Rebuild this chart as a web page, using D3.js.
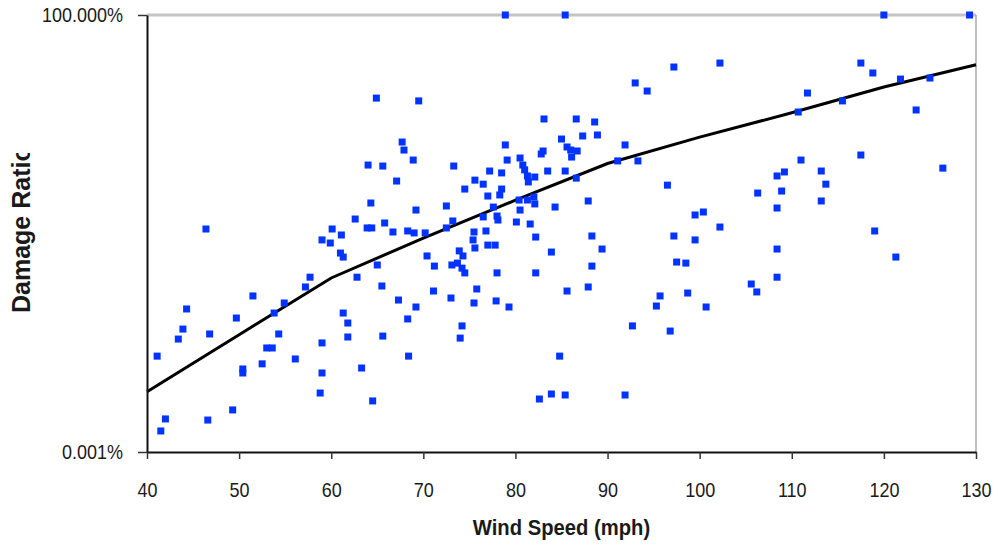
<!DOCTYPE html>
<html lang="en">
<head>
<meta charset="utf-8">
<title>Damage Ratio vs Wind Speed</title>
<script src="https://cdn.jsdelivr.net/npm/d3@7"></script>
<style>
body { margin: 0; background: #fff; }
svg text { font-family: "Liberation Sans", Arial, sans-serif; fill: #1a1a1a; }
</style>
</head>
<body>
<script>
var w = 998;
var h = 550;

// observed damage ratios (percent) against wind speed (mph)
var windSpeed = [
	78.9, 85.4, 120.0, 129.3,
	97.2, 102.2, 93.0, 94.3, 117.5, 118.8, 121.8, 125.0, 111.7, 115.5, 110.7, 123.5,
	117.5, 111.0, 108.4, 109.2, 113.2, 113.7, 126.4, 106.3, 108.9, 113.2, 108.4, 100.4,
	99.5, 102.2, 119.0, 108.4, 121.3, 108.4, 105.6, 106.2, 100.7, 97.2, 99.5, 97.5,
	98.5, 95.7, 95.3, 98.7, 92.7, 96.8, 96.5, 91.9, 91.1, 93.3,
	64.9, 69.5, 67.7, 67.9, 68.9, 64.0, 65.6, 67.1, 73.3, 75.6, 74.5, 64.3, 69.2, 72.5,
	83.1, 86.6, 88.6, 87.3, 88.9, 85.0, 78.9, 83.0, 82.8, 85.6, 86.0, 86.7, 86.1, 79.1,
	80.5, 80.8, 81.0, 81.3, 81.4, 82.1, 77.2, 78.5, 83.5, 85.4, 86.6, 76.5, 77.0, 78.5,
	78.3, 80.4, 81.3, 82.0, 82.1, 77.6, 87.9, 84.3, 80.5, 76.5, 78.0, 78.1, 80.1, 81.6,
	73.2, 72.5, 75.5, 76.8, 70.2, 82.2, 88.3,
	46.4, 62.6, 60.1, 61.1, 63.9, 64.4, 65.8, 66.7, 68.3, 69.0, 59.0, 59.9, 75.4, 75.6,
	77.0, 77.8, 70.4, 71.2, 73.9, 74.3, 73.1, 73.7, 74.2, 74.5, 78.0, 82.2, 83.9, 89.4,
	88.3, 61.0, 61.3, 65.0, 62.8, 65.5, 57.7, 57.2, 54.9, 53.8, 51.5, 49.7, 44.3, 43.9,
	43.4, 46.8, 41.1, 61.3, 61.8, 61.8, 59.0, 54.3, 53.0, 53.6, 52.5, 50.4, 50.4, 56.1,
	59.0, 58.8, 63.3, 64.5, 49.3, 46.6, 42.0, 41.5, 67.3, 69.2, 68.3, 65.6, 68.4, 71.1,
	73.0, 75.8, 75.5, 77.9, 79.3, 85.6, 87.9, 74.2, 74.0, 84.8, 83.9, 82.6, 85.4, 91.9
];
var damagePct = [
	100, 100, 100, 100,
	25.4, 28.2, 16.7, 13.5, 28.2, 21.7, 18.5, 19.0, 12.8, 10.4, 7.76, 8.19,
	2.50, 2.19, 1.44, 1.60, 1.64, 1.16, 1.77, 0.918, 0.968, 0.745, 0.619, 0.557,
	0.515, 0.375, 0.338, 0.210, 0.170, 0.100, 0.0836, 0.0678, 0.0456, 0.296, 0.267, 0.149,
	0.145, 0.0610, 0.0468, 0.0659, 0.0277, 0.0242, 1.13, 3.26, 2.14, 2.14,
	11.2, 10.4, 3.52, 2.85, 2.19, 1.92, 1.87, 1.26, 1.87, 1.29, 1.02, 0.706, 0.587, 0.653,
	6.46, 6.46, 5.97, 4.13, 4.24, 3.81, 3.26, 2.78, 2.57, 3.09, 2.85, 2.78, 2.37, 2.19,
	2.31, 1.92, 1.69, 1.44, 1.23, 1.40, 1.64, 1.56, 1.64, 1.64, 1.36, 1.16, 0.849, 1.02,
	0.873, 0.764, 0.764, 0.828, 0.689, 0.635, 0.745, 0.635, 0.587, 0.489, 0.501, 0.451, 0.428, 0.406,
	0.440, 0.366, 0.329, 0.338, 0.321, 0.288, 0.296,
	0.356, 0.463, 0.356, 0.304, 0.366, 0.366, 0.417, 0.329, 0.338, 0.321, 0.267, 0.246, 0.267, 0.216,
	0.233, 0.233, 0.175, 0.134, 0.200, 0.175, 0.138, 0.145, 0.127, 0.112, 0.112, 0.112, 0.194, 0.210,
	0.134, 0.189, 0.170, 0.138, 0.100, 0.0793, 0.100, 0.0773, 0.0507, 0.0389, 0.0610, 0.0341, 0.0433, 0.0255,
	0.0196, 0.0224, 0.0125, 0.0389, 0.0299, 0.0207, 0.0177, 0.0224, 0.0155, 0.0155, 0.0102, 0.00891, 0.00802, 0.0116,
	0.00802, 0.00473, 0.00914, 0.00384, 0.00303, 0.00232, 0.00239, 0.00174, 0.0548, 0.0456, 0.0333, 0.0212, 0.0125, 0.0695,
	0.0578, 0.0733, 0.0507, 0.0535, 0.0456, 0.0695, 0.0773, 0.0277, 0.0201, 0.0125, 0.00461, 0.00404, 0.00449, 0.00449
];

// fitted damage curve
var curveSpeed = [40, 50, 60, 70, 80, 90, 100, 110, 120, 130];
var curvePct = [0.0049, 0.022, 0.098, 0.28, 0.76, 2.0, 4.0, 7.6, 15, 27];

var xTicks = [40, 50, 60, 70, 80, 90, 100, 110, 120, 130];
var yTicks = [0.001, 100];
var yTickLabels = ["0.001%", "100.000%"];

var squeeze = 0.9;

var x = d3.scaleLinear().domain([40, 130]).range([147, 976]);
var y = d3.scaleLog().domain([0.001, 100]).range([452, 15]);

var svg = d3.select("body")
	.append("svg")
	.attr("width", w)
	.attr("height", h);

// top gridline and right border of the plot area
svg.append("line")
	.attr("x1", x(40)).attr("x2", x(130))
	.attr("y1", y(100)).attr("y2", y(100))
	.attr("stroke", "#c4c4c4")
	.attr("stroke-width", 3);
svg.append("line")
	.attr("x1", x(130)).attr("x2", x(130))
	.attr("y1", y(100)).attr("y2", y(0.001))
	.attr("stroke", "#a8a8a8")
	.attr("stroke-width", 1.5);

// curve
var line = d3.line()
	.x(function(d, i) { return x(curveSpeed[i]); })
	.y(function(d) { return y(d); });
svg.append("path")
	.datum(curvePct)
	.attr("d", line)
	.attr("fill", "none")
	.attr("stroke", "#000")
	.attr("stroke-width", 3);

// points
svg.selectAll("rect.pt")
	.data(damagePct)
	.enter()
	.append("rect")
	.attr("class", "pt")
	.attr("x", function(d, i) { return x(windSpeed[i]) - 3.5; })
	.attr("y", function(d) { return y(d) - 3.5; })
	.attr("width", 7)
	.attr("height", 7)
	.attr("fill", "#0033ff");

// axes
var xAxis = svg.append("g")
	.attr("transform", "translate(0," + y(0.001) + ")")
	.call(d3.axisBottom(x).tickValues(xTicks).tickSize(7).tickSizeOuter(0).tickPadding(24));
var yAxis = svg.append("g")
	.attr("transform", "translate(" + x(40) + ",0)")
	.call(d3.axisLeft(y).tickValues(yTicks).tickSize(9).tickSizeOuter(0)
		.tickFormat(function(d, i) { return yTickLabels[i]; }));

[xAxis, yAxis].forEach(function(g) {
	g.attr("font-size", 20);
	g.select(".domain").attr("stroke", "#111").attr("stroke-width", 2);
	g.selectAll(".tick line").attr("stroke", "#333").attr("stroke-width", 1.5);
	g.selectAll(".tick text")
		.style("font-size", "20px")
		.attr("fill", "#1a1a1a")
		.attr("transform", "scale(" + squeeze + ",1)");
});
yAxis.selectAll(".tick text").attr("x", -24 / squeeze);

// axis titles
svg.append("text")
	.attr("transform", "translate(" + x(85) + ",535) scale(0.92,1)")
	.attr("text-anchor", "middle")
	.attr("font-size", 22)
	.attr("font-weight", "bold")
	.text("Wind Speed (mph)");

svg.append("clipPath")
	.attr("id", "ytitle-clip")
	.append("rect")
	.attr("x", 0).attr("y", 153)
	.attr("width", 60).attr("height", 300);
svg.append("g")
	.attr("clip-path", "url(#ytitle-clip)")
	.append("text")
	.attr("transform", "translate(30,313) rotate(-90)")
	.attr("text-anchor", "start")
	.attr("font-size", 25)
	.attr("font-weight", "bold")
	.text("Damage Ratio");
</script>
</body>
</html>
